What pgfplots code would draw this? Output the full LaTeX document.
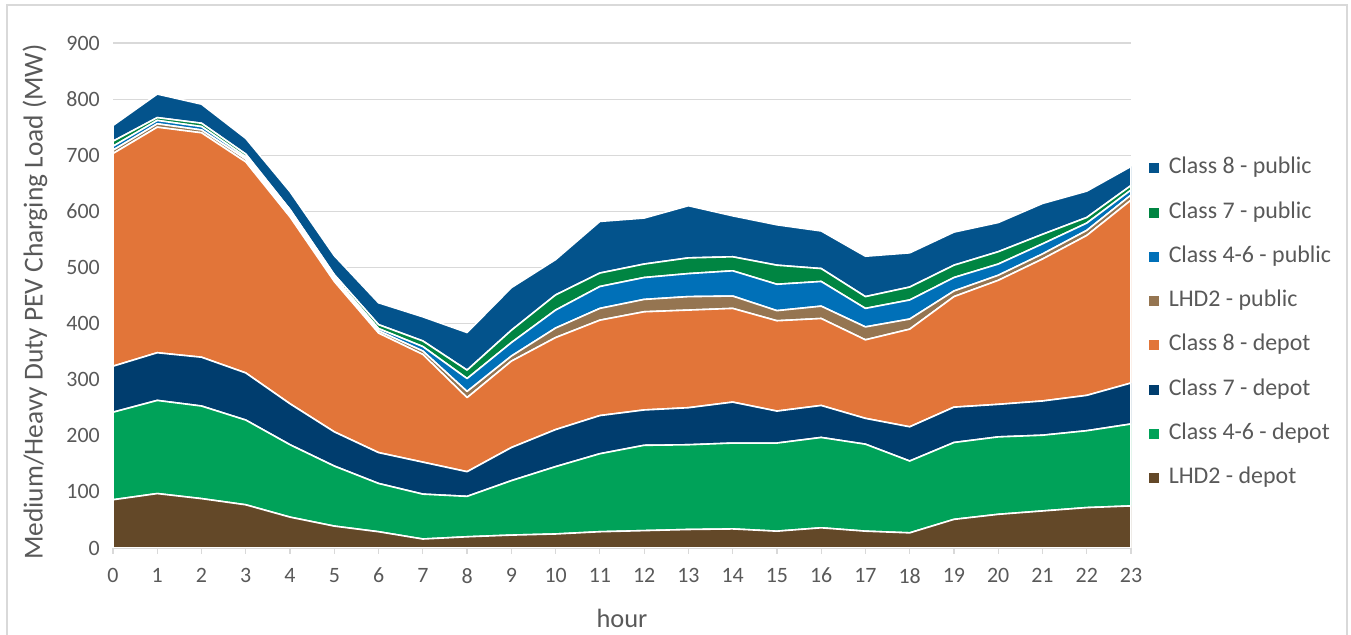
\documentclass[border=0pt]{standalone}
\usepackage{pgfplots}
\pgfplotsset{compat=1.18}
\usepackage{pgfplotstable}
\usepackage{fontspec}
\setmainfont{Carlito}
\definecolor{cEightPub}{HTML}{03538C}
\definecolor{cSevenPub}{HTML}{008542}
\definecolor{cFourPub}{HTML}{0070B8}
\definecolor{cLPub}{HTML}{957551}
\definecolor{cEightDep}{HTML}{E27539}
\definecolor{cSevenDep}{HTML}{003D6E}
\definecolor{cFourDep}{HTML}{00A259}
\definecolor{cLDep}{HTML}{634828}
\definecolor{txt}{HTML}{595959}
\definecolor{gridc}{HTML}{D9D9D9}

\pgfplotstableread{
h ld c46d c7d c8d lp c46p c7p c8p
0 86 156 82 379 6 7 9 28
1 97 166 85 402 6 6 5 42
2 88 165 87 400 5 6 6 34
3 77 151 84 376 5 4 5 28
4 55 129 73 333 4 4 5 32
5 39 107 61 268 3 4 5 34
6 29 86 55 213 4 4 7 39
7 16 80 57 192 6 8 10 43
8 20 72 44 132 11 23 15 67
9 23 97 59 154 9 24 22 76
10 25 120 66 164 17 32 27 63
11 29 139 68 170 21 39 24 92
12 31 152 63 175 22 39 24 82
13 33 151 66 174 24 41 28 93
14 34 153 73 167 22 45 25 73
15 30 157 57 161 18 47 34 72
16 36 161 57 155 22 44 23 67
17 30 155 46 140 23 33 21 72
18 27 128 61 174 18 34 23 61
19 51 137 63 197 10 24 22 59
20 60 138 58 221 9 20 22 52
21 66 135 61 253 9 18 17 55
22 72 137 63 285 9 13 10 47
23 75 146 73 326 9 9 8 34
}\datatable

\begin{document}
\begin{tikzpicture}[x=1bp,y=1bp]
\useasboundingbox (0,0) rectangle (1351,635);
\draw[color=gridc, line width=1.2bp] (7,-5) -- (7,630) -- (1347,630) -- (1347,-5);
\begin{axis}[
  at={(113bp,87bp)}, anchor=south west,
  scale only axis, width=1018bp, height=505bp,
  xmin=0, xmax=23, ymin=0, ymax=900,
  xtick={0,1,...,23}, ytick={0,100,...,900},
  stack plots=y,
  axis lines*=left,
  y axis line style={draw=none},
  x axis line style={draw=gridc, line width=1.2bp},
  xtick align=outside,
  x tick style={draw=gridc, line width=1.2bp},
  major tick length=6bp,
  y tick style={draw=none},
  ymajorgrids,
  grid style={draw=gridc, line width=1.2bp},
  tick label style={font=\fontsize{22}{26}\selectfont, text=txt},
  /pgf/number format/assume math mode=true,
  yticklabel style={inner sep=0pt, xshift=-13bp},
  xticklabel style={inner sep=0pt, yshift=-14bp},
  label style={text=txt},
  xlabel={hour},
  xlabel style={font=\fontsize{26.5}{30}\selectfont, at={(axis description cs:0.5,-0.139)}, anchor=center},
  ylabel={Medium/Heavy Duty PEV Charging Load (MW)},
  ylabel style={font=\fontsize{27.5}{31}\selectfont, at={(axis description cs:-0.0766,0.487)}, anchor=center},
  reverse legend,
  legend cell align=left,
  legend style={at={(axis description cs:1.0145,0.445)}, anchor=west, draw=none, fill=none,
    font=\fontsize{24}{28}\selectfont, text=txt, row sep=19.3bp,
    nodes={inner sep=2bp, text height=16bp, text depth=5bp}},
  legend image code/.code={\fill[#1, draw=none] (0bp,-5bp) rectangle (10bp,5bp); \path (17bp,0bp);},
  every axis plot/.append style={draw=white, line width=1.6bp, line join=round},
]
\addplot[fill=cLDep] table[x=h, y=ld] {\datatable} \closedcycle;
\addlegendentry{LHD2 - depot}
\addplot[fill=cFourDep] table[x=h, y=c46d] {\datatable} \closedcycle;
\addlegendentry{Class 4-6 - depot}
\addplot[fill=cSevenDep] table[x=h, y=c7d] {\datatable} \closedcycle;
\addlegendentry{Class 7 - depot}
\addplot[fill=cEightDep] table[x=h, y=c8d] {\datatable} \closedcycle;
\addlegendentry{Class 8 - depot}
\addplot[fill=cLPub] table[x=h, y=lp] {\datatable} \closedcycle;
\addlegendentry{LHD2 - public}
\addplot[fill=cFourPub] table[x=h, y=c46p] {\datatable} \closedcycle;
\addlegendentry{Class 4-6 - public}
\addplot[fill=cSevenPub] table[x=h, y=c7p] {\datatable} \closedcycle;
\addlegendentry{Class 7 - public}
\addplot[fill=cEightPub] table[x=h, y=c8p] {\datatable} \closedcycle;
\addlegendentry{Class 8 - public}
\end{axis}
\end{tikzpicture}
\end{document}
